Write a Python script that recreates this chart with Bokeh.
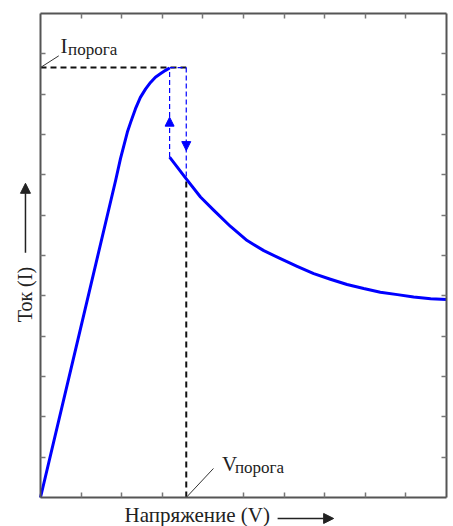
from bokeh.plotting import figure
from bokeh.models import Range1d, LinearAxis, FixedTicker, Label, Arrow, NormalHead
from bokeh.embed import file_html
from bokeh.resources import INLINE
import math

# --- data (voltage / current, arbitrary units) ---
up_v = [0, 0.97, 1.85, 1.97, 2.14, 2.22, 2.34, 2.46, 2.59, 2.71, 2.83, 2.96, 3.08, 3.18]
up_i = [0, 4.12, 7.86, 8.40, 9.06, 9.30, 9.64, 9.92, 10.13, 10.29, 10.42, 10.51, 10.59, 10.65]
down_v = [3.18, 3.59, 3.94, 4.27, 4.68, 5.09, 5.50, 5.91, 6.32, 6.73, 7.14, 7.55, 7.96, 8.37, 8.79, 9.19, 9.61, 10.0]
down_i = [8.44, 7.90, 7.45, 7.12, 6.72, 6.37, 6.12, 5.92, 5.73, 5.55, 5.41, 5.28, 5.18, 5.09, 5.03, 4.97, 4.93, 4.91]
i_threshold = 10.66
v_threshold = 3.59
v_jump = 3.18
x_ticks_top = [1, 2, 3, 4, 5, 6, 7, 8, 9]
x_ticks_bottom = [1, 2, 3, 5, 6, 7, 8, 9]
y_ticks = [1, 2, 3, 4, 5, 6, 7, 8, 9, 10, 11]

FONT = "Liberation Serif"
TXT = "#222222"
AX = "#555555"

p = figure(width=453, height=526, output_backend="svg", toolbar_location=None,
           x_range=Range1d(-0.985, 10.172), y_range=Range1d(-0.719, 12.322),
           x_axis_location=None, y_axis_location=None,
           min_border_left=0, min_border_right=0, min_border_top=0, min_border_bottom=0)
p.grid.grid_line_color = None
p.outline_line_color = None
p.background_fill_color = "white"
p.border_fill_color = "white"

def make_axis(ticks, loc, bounds):
    return LinearAxis(ticker=FixedTicker(ticks=ticks), fixed_location=loc, bounds=bounds,
                      major_tick_in=5, major_tick_out=0,
                      minor_tick_line_color=None, axis_line_color=AX, axis_line_width=2,
                      major_tick_line_color="#777777", major_tick_line_width=1.5,
                      major_label_overrides={t: "" for t in ticks},
                      major_label_text_font_size="0px", major_label_standoff=0)

p.add_layout(make_axis(x_ticks_bottom, 0, (0, 10)), "below")
p.add_layout(make_axis(x_ticks_top, 12, (0, 10)), "above")
p.add_layout(make_axis(y_ticks, 0, (0, 12)), "left")
p.add_layout(make_axis(y_ticks, 10, (0, 12)), "right")

# black dashed guide lines
p.line([0, v_threshold], [i_threshold, i_threshold], line_color="#111111", line_width=2, line_dash="6 4")
p.line([v_threshold, v_threshold], [0, down_i[1]], line_color="#111111", line_width=2, line_dash="6 4")

# blue dashed jump lines
p.line([v_jump, v_jump], [down_i[0], up_i[-1]], line_color="blue", line_width=1.2, line_dash="5 3")
p.line([v_jump, v_threshold], [i_threshold, i_threshold], line_color="blue", line_width=1.2, line_dash="5 3")
p.line([v_threshold, v_threshold], [i_threshold, down_i[1]], line_color="blue", line_width=1.2, line_dash="5 3")

# arrowheads on jump lines
p.add_layout(Arrow(x_start=v_jump, y_start=9.0, x_end=v_jump, y_end=9.43, line_alpha=0,
                   end=NormalHead(size=9, fill_color="blue", line_color="blue", line_width=1)))
p.add_layout(Arrow(x_start=v_threshold, y_start=9.1, x_end=v_threshold, y_end=8.6, line_alpha=0,
                   end=NormalHead(size=9, fill_color="blue", line_color="blue", line_width=1)))

# main curves
p.line(up_v, up_i, line_color="blue", line_width=3, line_join="round")
p.line(down_v, down_i, line_color="blue", line_width=3, line_join="round")

# threshold labels with leader lines
p.line([0, 0.45], [i_threshold, 10.95], line_color="#333333", line_width=1)
p.add_layout(Label(x=0.49, y=11.19, text="I", text_font=FONT, text_font_size="21px",
                   text_color=TXT, text_align="left", text_baseline="middle"))
p.add_layout(Label(x=0.68, y=11.10, text="порога", text_font=FONT, text_font_size="17px",
                   text_color=TXT, text_align="left", text_baseline="middle"))
p.line([v_threshold, 4.26], [0, 0.72], line_color="#333333", line_width=1)
p.add_layout(Label(x=4.47, y=0.84, text="V", text_font=FONT, text_font_size="21px",
                   text_color=TXT, text_align="left", text_baseline="middle"))
p.add_layout(Label(x=4.79, y=0.74, text="порога", text_font=FONT, text_font_size="17px",
                   text_color=TXT, text_align="left", text_baseline="middle"))

# axis titles with arrows
p.add_layout(Label(x=3.86, y=-0.43, text="Напряжение (V)", text_font=FONT, text_font_size="21px",
                   text_color=TXT, text_align="center", text_baseline="middle"))
p.add_layout(Arrow(x_start=5.84, y_start=-0.52, x_end=7.22, y_end=-0.52, line_color=TXT, line_width=1.5,
                   end=NormalHead(size=10, fill_color=TXT, line_color=TXT)))
p.add_layout(Label(x=-0.37, y=5.03, text="Ток (I)", text_font=FONT, text_font_size="20px",
                   text_color=TXT, text_align="center", text_baseline="middle", angle=math.pi / 2))
p.add_layout(Arrow(x_start=-0.37, y_start=6.07, x_end=-0.37, y_end=7.79, line_color=TXT, line_width=1.5,
                   end=NormalHead(size=10, fill_color=TXT, line_color=TXT)))

open("out.html", "w").write(file_html(p, INLINE))
